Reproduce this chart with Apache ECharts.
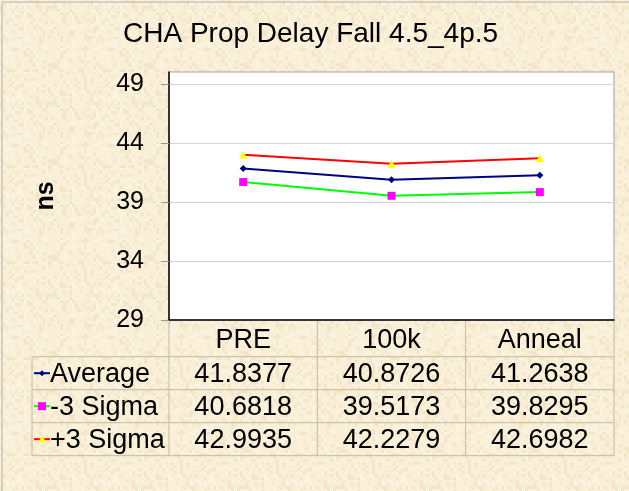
<!DOCTYPE html>
<html>
<head>
<meta charset="utf-8">
<script src="https://cdn.jsdelivr.net/npm/echarts@6/dist/echarts.min.js"></script>
<style>
  html, body { margin: 0; padding: 0; background: #f8eed5; }
  #chart { width: 629px; height: 491px; }
</style>
</head>
<body>
<div id="chart"></div>
<script>
  // data
  var categories = ['PRE', '100k', 'Anneal'];
  var seriesNames = ['Average', '-3 Sigma', '+3 Sigma'];
  var average = [41.8377, 40.8726, 41.2638];
  var minus3Sigma = [40.6818, 39.5173, 39.8295];
  var plus3Sigma = [42.9935, 42.2279, 42.6982];
  var yTicks = [29, 34, 39, 44, 49];

  var FONT = '"Liberation Sans", Arial, sans-serif';
  var GRID = { left: 169, top: 72, width: 445, height: 248 };
  var ROW_H = 33;
  var HEAD_H = 36.7;
  var TABLE_LEFT = 32;
  var LINE_COL = '#c4b89e';

  var styles = [
    { line: '#000080', fill: '#000080', symbol: 'diamond', size: 7 },
    { line: '#00ff00', fill: '#ff00ff', symbol: 'rect', size: 8 },
    { line: '#ff0000', fill: '#ffff00', symbol: 'triangle', size: 8 }
  ];
  var allData = [average, minus3Sigma, plus3Sigma];

  // parchment-like fill tile (hash based, same every run)
  function parchment() {
    var c = document.createElement('canvas');
    c.width = 96; c.height = 96;
    var ctx = c.getContext('2d');
    ctx.fillStyle = '#f9efd6';
    ctx.fillRect(0, 0, 96, 96);
    for (var y = 0; y < 96; y += 3) {
      for (var x = 0; x < 96; x += 3) {
        var h = Math.sin(x * 12.9898 + y * 78.233) * 43758.5453;
        h = h - Math.floor(h);
        if (h > 0.55) {
          ctx.fillStyle = h > 0.8 ? 'rgba(225,200,150,0.22)' : 'rgba(255,252,240,0.35)';
          ctx.fillRect(x, y, 3, 3);
        }
      }
    }
    return c;
  }

  var chart = echarts.init(document.getElementById('chart'));

  chart.setOption({
    backgroundColor: { image: parchment(), repeat: 'repeat' },
    animation: false,
    title: {
      text: 'CHA Prop Delay Fall 4.5_4p.5',
      left: 118,
      top: 15,
      textStyle: { fontFamily: FONT, fontSize: 28, fontWeight: 'normal', color: '#000' }
    },
    grid: {
      left: GRID.left, top: GRID.top, width: GRID.width, height: GRID.height,
      show: true, backgroundColor: '#fff', borderColor: '#a0a0a0', borderWidth: 1
    },
    xAxis: {
      type: 'category',
      data: categories,
      boundaryGap: true,
      axisLine: { lineStyle: { color: '#000', width: 1.5 } },
      axisTick: { show: false },
      axisLabel: { color: '#000', fontFamily: FONT, fontSize: 27, margin: 7 }
    },
    yAxis: {
      type: 'value',
      min: 29,
      max: 50,
      interval: 5,
      name: 'ns',
      nameLocation: 'middle',
      nameRotate: 90,
      nameGap: 110,
      nameTextStyle: { fontFamily: FONT, fontSize: 25, fontWeight: 'bold', color: '#000' },
      axisLine: { show: true, lineStyle: { color: '#000', width: 1.5 } },
      axisTick: { show: true, length: 8, customValues: yTicks, lineStyle: { color: '#999' } },
      axisLabel: { customValues: yTicks, color: '#000', fontFamily: FONT, fontSize: 25, margin: 25 },
      splitLine: { lineStyle: { color: '#d4d4d4' } }
    },
    series: allData.map(function (d, i) {
      return {
        name: seriesNames[i],
        type: 'line',
        data: d,
        symbol: styles[i].symbol,
        symbolSize: styles[i].size,
        lineStyle: { color: styles[i].line, width: 2 },
        itemStyle: { color: styles[i].fill, borderWidth: 0 },
        z: 3 - i
      };
    })
  });

  // data table under the plot, built from the same arrays
  function buildTable() {
    var g = [];
    var right = GRID.left + GRID.width;
    var bottom = GRID.top + GRID.height;
    var colW = GRID.width / categories.length;
    var firstRow = bottom + HEAD_H;
    var tableBottom = firstRow + ROW_H * seriesNames.length;
    var font = '27px ' + FONT;

    for (var r = 0; r <= seriesNames.length; r++) {
      var y = firstRow + r * ROW_H;
      g.push({ type: 'line', shape: { x1: TABLE_LEFT, y1: y, x2: right, y2: y },
        style: { stroke: LINE_COL, lineWidth: 1 }, silent: true });
    }
    for (var c = 0; c <= categories.length; c++) {
      var x = GRID.left + c * colW;
      g.push({ type: 'line', shape: { x1: x, y1: bottom, x2: x, y2: tableBottom },
        style: { stroke: LINE_COL, lineWidth: 1 }, silent: true });
    }
    g.push({ type: 'line', shape: { x1: TABLE_LEFT, y1: firstRow, x2: TABLE_LEFT, y2: tableBottom },
      style: { stroke: LINE_COL, lineWidth: 1 }, silent: true });

    seriesNames.forEach(function (name, i) {
      var cy = firstRow + i * ROW_H + ROW_H / 2;
      // legend key: line plus marker
      g.push({ type: 'line', shape: { x1: TABLE_LEFT + 2, y1: cy, x2: TABLE_LEFT + 18, y2: cy },
        style: { stroke: styles[i].line, lineWidth: 2 }, silent: true });
      g.push({
        type: styles[i].symbol === 'rect' ? 'rect' : 'polygon',
        shape: styles[i].symbol === 'rect'
          ? { x: TABLE_LEFT + 6, y: cy - 4, width: 8, height: 8 }
          : styles[i].symbol === 'triangle'
            ? { points: [[TABLE_LEFT + 10, cy - 4], [TABLE_LEFT + 14, cy + 3], [TABLE_LEFT + 6, cy + 3]] }
            : { points: [[TABLE_LEFT + 10, cy - 3], [TABLE_LEFT + 13, cy], [TABLE_LEFT + 10, cy + 3], [TABLE_LEFT + 7, cy]] },
        style: { fill: styles[i].fill }, silent: true
      });
      g.push({ type: 'text', x: TABLE_LEFT + 18, y: cy + 1,
        style: { text: name, font: font, fill: '#000', verticalAlign: 'middle', align: 'left' }, silent: true });

      allData[i].forEach(function (v, j) {
        var cx = chart.convertToPixel({ xAxisIndex: 0 }, categories[j]);
        g.push({ type: 'text', x: cx, y: cy + 1,
          style: { text: v.toFixed(4), font: font, fill: '#000', verticalAlign: 'middle', align: 'center' }, silent: true });
      });
    });

    // outer chart border (only top/left fall inside the picture)
    g.push({ type: 'rect', shape: { x: 2, y: 2, width: 700, height: 600 },
      style: { fill: 'none', stroke: '#b0b0b0', lineWidth: 1 }, silent: true });

    chart.setOption({ graphic: g });
  }
  buildTable();
</script>
</body>
</html>
